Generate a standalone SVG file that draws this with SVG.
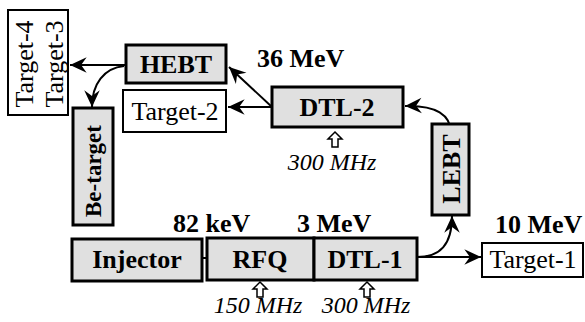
<svg xmlns="http://www.w3.org/2000/svg" width="585" height="322" viewBox="0 0 585 322">
<style>
.g{fill:#e0e0e0;stroke:#000;stroke-width:3}
.w{fill:#fff;stroke:#000;stroke-width:2}
.b{font-family:"Liberation Serif","Times New Roman",serif;font-weight:bold;font-size:26px;fill:#000}
.r{font-family:"Liberation Serif","Times New Roman",serif;font-size:26px;fill:#000}
.i{font-family:"Liberation Serif","Times New Roman",serif;font-style:italic;font-size:24px;fill:#000}
.c{fill:none;stroke:#000;stroke-width:2;marker-end:url(#ah)}
.h{fill:#fff;stroke:#000;stroke-width:1.5}
</style>
<defs>
<marker id="ah" markerUnits="userSpaceOnUse" markerWidth="20" markerHeight="20" viewBox="-16 -8 18 16" refX="0" refY="0" orient="auto">
<path d="M0,0 L-15,-7 L-10,0 L-15,7 Z" fill="#000"/>
</marker>
</defs>
<rect width="585" height="322" fill="#fff"/>
<g id="connectors">
<path class="c" d="M126,65 L70,65"/>
<path class="c" d="M124,66 C104,68 92,84 92,107"/>
<path class="c" d="M272,107 L228,107"/>
<path class="c" d="M272,107 L229,67"/>
<path class="c" d="M451,133 C451,115 436,105 405,106"/>
<path class="c" d="M417,257 C440,257 452,245 452,216"/>
<path class="c" d="M417,257 L481,257"/>
<path d="M202,258 L207,258" stroke="#000" stroke-width="2"/>
</g>
<g id="target34">
<rect class="w" x="8" y="10" width="60" height="105"/>
<text class="r" transform="translate(33,64) rotate(-90)" text-anchor="middle">Target-4</text>
<text class="r" transform="translate(63,64) rotate(-90)" text-anchor="middle">Target-3</text>
</g>
<g id="hebt">
<rect class="g" x="126" y="45" width="100" height="38"/>
<text class="b" x="176" y="73" text-anchor="middle">HEBT</text>
</g>
<g id="target2">
<rect class="w" x="123" y="90" width="103" height="42"/>
<text class="r" x="175" y="120" text-anchor="middle">Target-2</text>
</g>
<g id="dtl2">
<rect class="g" x="272" y="87" width="131" height="40"/>
<text class="b" x="337" y="116" text-anchor="middle">DTL-2</text>
<polygon class="h" points="335,132 342,139 338,139 338,147 332,147 332,139 328,139"/>
<text class="i" x="332" y="170" text-anchor="middle">300 MHz</text>
</g>
<g id="label36">
<text class="b" x="257" y="67">36 MeV</text>
</g>
<g id="betarget">
<rect class="g" x="73" y="108" width="40" height="117"/>
<text class="b" transform="translate(101,171) rotate(-90)" text-anchor="middle" style="font-size:23px">Be-target</text>
</g>
<g id="lebt">
<rect class="g" x="432" y="124" width="37" height="91"/>
<text class="b" transform="translate(460,169) rotate(-90)" text-anchor="middle">LEBT</text>
</g>
<g id="injector">
<rect class="g" x="72" y="239" width="130" height="42"/>
<text class="b" x="137" y="268" text-anchor="middle">Injector</text>
</g>
<g id="rfq">
<rect class="g" x="207" y="238" width="107" height="42"/>
<text class="b" x="260" y="268" text-anchor="middle">RFQ</text>
<polygon class="h" points="260,282 267,289 263,289 263,297 257,297 257,289 253,289"/>
<text class="i" x="258" y="313" text-anchor="middle">150 MHz</text>
</g>
<g id="dtl1">
<rect class="g" x="314" y="238" width="103" height="42"/>
<text class="b" x="365" y="268" text-anchor="middle">DTL-1</text>
<polygon class="h" points="367,282 374,289 370,289 370,297 364,297 364,289 360,289"/>
<text class="i" x="366" y="313" text-anchor="middle">300 MHz</text>
</g>
<g id="target1">
<rect class="w" x="482" y="243" width="101" height="34"/>
<text class="r" x="533" y="268" text-anchor="middle">Target-1</text>
</g>
<g id="labels">
<text class="b" x="173" y="232">82 keV</text>
<text class="b" x="297" y="232">3 MeV</text>
<text class="b" x="495" y="233">10 MeV</text>
</g>
</svg>
